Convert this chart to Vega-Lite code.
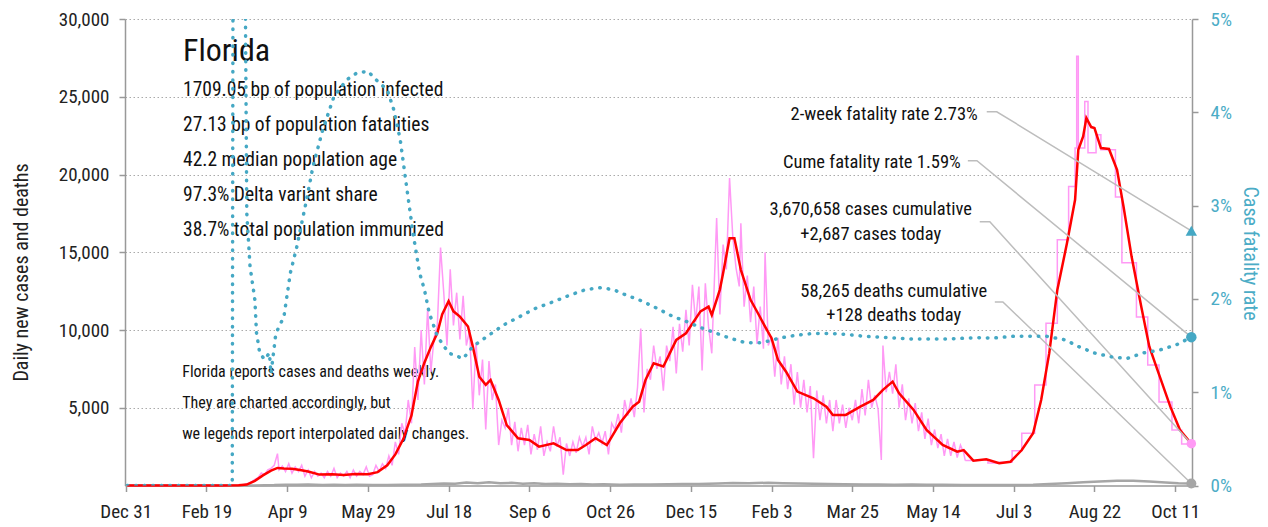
{
  "$schema": "https://vega.github.io/schema/vega-lite/v6.json",
  "autosize": {"type": "none"},
  "padding": {"left": 125, "top": 19, "right": 76, "bottom": 41.5},
  "width": 1067,
  "height": 466.5,
  "config": {
    "view": {"stroke": null},
    "font": "Roboto Condensed, Liberation Sans Narrow, DejaVu Sans Condensed, sans-serif"
  },
  "datasets": {
    "pink": [
      {"d":"2020-01-01","v":0},{"d":"2020-03-01","v":0},{"d":"2020-03-10","v":20},{"d":"2020-03-13","v":50},{"d":"2020-03-16","v":150},{"d":"2020-03-18","v":250},{"d":"2020-03-20","v":400},{"d":"2020-03-22","v":500},{"d":"2020-03-24","v":800},{"d":"2020-03-26","v":700},{"d":"2020-03-28","v":1000},{"d":"2020-03-30","v":1100},
      {"d":"2020-04-01","v":1300},{"d":"2020-04-03","v":2050},{"d":"2020-04-04","v":1000},{"d":"2020-04-06","v":1250},{"d":"2020-04-08","v":900},{"d":"2020-04-10","v":1400},{"d":"2020-04-12","v":800},{"d":"2020-04-14","v":1200},{"d":"2020-04-16","v":900},{"d":"2020-04-18","v":1300},{"d":"2020-04-20","v":600},{"d":"2020-04-22","v":1000},{"d":"2020-04-24","v":500},{"d":"2020-04-26","v":900},{"d":"2020-04-28","v":600},{"d":"2020-04-30","v":800},
      {"d":"2020-05-02","v":500},{"d":"2020-05-04","v":900},{"d":"2020-05-06","v":600},{"d":"2020-05-08","v":1100},{"d":"2020-05-10","v":500},{"d":"2020-05-12","v":800},{"d":"2020-05-14","v":600},{"d":"2020-05-16","v":900},{"d":"2020-05-18","v":500},{"d":"2020-05-20","v":1000},{"d":"2020-05-22","v":600},{"d":"2020-05-24","v":900},{"d":"2020-05-26","v":700},{"d":"2020-05-28","v":1200},{"d":"2020-05-30","v":600},
      {"d":"2020-06-01","v":700},{"d":"2020-06-03","v":1300},{"d":"2020-06-05","v":900},{"d":"2020-06-07","v":1400},{"d":"2020-06-09","v":1100},{"d":"2020-06-11","v":1900},{"d":"2020-06-13","v":1300},{"d":"2020-06-15","v":2800},{"d":"2020-06-17","v":2000},{"d":"2020-06-19","v":4000},{"d":"2020-06-21","v":3300},{"d":"2020-06-23","v":5500},{"d":"2020-06-25","v":4000},{"d":"2020-06-27","v":8900},{"d":"2020-06-29","v":5500},
      {"d":"2020-07-01","v":10000},{"d":"2020-07-03","v":6500},{"d":"2020-07-05","v":11400},{"d":"2020-07-07","v":7300},{"d":"2020-07-09","v":9500},{"d":"2020-07-11","v":10300},{"d":"2020-07-13","v":15300},{"d":"2020-07-15","v":12400},{"d":"2020-07-17","v":9000},{"d":"2020-07-19","v":13900},{"d":"2020-07-21","v":10300},{"d":"2020-07-23","v":12400},{"d":"2020-07-25","v":9400},{"d":"2020-07-27","v":12200},{"d":"2020-07-29","v":9000},{"d":"2020-07-31","v":10000},
      {"d":"2020-08-02","v":4900},{"d":"2020-08-04","v":9200},{"d":"2020-08-06","v":5800},{"d":"2020-08-08","v":8100},{"d":"2020-08-10","v":3600},{"d":"2020-08-12","v":8000},{"d":"2020-08-14","v":5500},{"d":"2020-08-16","v":6500},{"d":"2020-08-18","v":2600},{"d":"2020-08-20","v":4200},{"d":"2020-08-22","v":3700},{"d":"2020-08-24","v":5000},{"d":"2020-08-26","v":2600},{"d":"2020-08-28","v":4100},{"d":"2020-08-30","v":2200},
      {"d":"2020-09-01","v":3700},{"d":"2020-09-03","v":2600},{"d":"2020-09-05","v":3900},{"d":"2020-09-07","v":2000},{"d":"2020-09-09","v":3300},{"d":"2020-09-11","v":2300},{"d":"2020-09-13","v":3800},{"d":"2020-09-15","v":1900},{"d":"2020-09-17","v":2800},{"d":"2020-09-19","v":2200},{"d":"2020-09-21","v":3800},{"d":"2020-09-23","v":2500},{"d":"2020-09-25","v":3100},{"d":"2020-09-27","v":700},{"d":"2020-09-29","v":2700},
      {"d":"2020-10-01","v":1900},{"d":"2020-10-03","v":2800},{"d":"2020-10-05","v":2100},{"d":"2020-10-07","v":3100},{"d":"2020-10-09","v":2500},{"d":"2020-10-11","v":3100},{"d":"2020-10-13","v":2000},{"d":"2020-10-15","v":3800},{"d":"2020-10-17","v":2900},{"d":"2020-10-19","v":3400},{"d":"2020-10-21","v":2700},{"d":"2020-10-23","v":3500},{"d":"2020-10-25","v":2000},{"d":"2020-10-27","v":4000},{"d":"2020-10-29","v":3600},{"d":"2020-10-31","v":4600},
      {"d":"2020-11-02","v":3400},{"d":"2020-11-04","v":5500},{"d":"2020-11-06","v":4500},{"d":"2020-11-08","v":5600},{"d":"2020-11-10","v":4400},{"d":"2020-11-12","v":6300},{"d":"2020-11-14","v":10100},{"d":"2020-11-16","v":4700},{"d":"2020-11-18","v":7500},{"d":"2020-11-20","v":6800},{"d":"2020-11-22","v":9000},{"d":"2020-11-24","v":7500},{"d":"2020-11-26","v":8300},{"d":"2020-11-28","v":6100},{"d":"2020-11-30","v":9000},
      {"d":"2020-12-02","v":8000},{"d":"2020-12-04","v":10200},{"d":"2020-12-06","v":7200},{"d":"2020-12-08","v":10400},{"d":"2020-12-10","v":8600},{"d":"2020-12-12","v":11300},{"d":"2020-12-14","v":9000},{"d":"2020-12-16","v":12900},{"d":"2020-12-18","v":10500},{"d":"2020-12-20","v":12800},{"d":"2020-12-22","v":7400},{"d":"2020-12-24","v":13000},{"d":"2020-12-26","v":10200},{"d":"2020-12-28","v":8500},{"d":"2020-12-31","v":17200},
      {"d":"2021-01-02","v":11000},{"d":"2021-01-04","v":15500},{"d":"2021-01-06","v":13900},{"d":"2021-01-08","v":19770},{"d":"2021-01-10","v":16000},{"d":"2021-01-12","v":14000},{"d":"2021-01-14","v":12800},{"d":"2021-01-15","v":16870},{"d":"2021-01-17","v":11500},{"d":"2021-01-19","v":13500},{"d":"2021-01-21","v":10500},{"d":"2021-01-23","v":12800},{"d":"2021-01-25","v":9100},{"d":"2021-01-27","v":11500},{"d":"2021-01-29","v":8800},{"d":"2021-01-30","v":14980},
      {"d":"2021-02-01","v":9000},{"d":"2021-02-03","v":9600},{"d":"2021-02-05","v":7000},{"d":"2021-02-07","v":9500},{"d":"2021-02-09","v":6500},{"d":"2021-02-11","v":8300},{"d":"2021-02-13","v":6200},{"d":"2021-02-15","v":7800},{"d":"2021-02-17","v":5200},{"d":"2021-02-19","v":7300},{"d":"2021-02-21","v":5000},{"d":"2021-02-23","v":6800},{"d":"2021-02-25","v":4700},{"d":"2021-02-27","v":6400},
      {"d":"2021-03-01","v":1750},{"d":"2021-03-03","v":6100},{"d":"2021-03-05","v":4200},{"d":"2021-03-07","v":5800},{"d":"2021-03-09","v":4000},{"d":"2021-03-11","v":5500},{"d":"2021-03-13","v":3500},{"d":"2021-03-15","v":5500},{"d":"2021-03-17","v":4000},{"d":"2021-03-19","v":5200},{"d":"2021-03-21","v":3700},{"d":"2021-03-23","v":5000},{"d":"2021-03-25","v":4200},{"d":"2021-03-27","v":5500},{"d":"2021-03-29","v":4000},{"d":"2021-03-31","v":6200},
      {"d":"2021-04-02","v":4500},{"d":"2021-04-04","v":6800},{"d":"2021-04-06","v":5000},{"d":"2021-04-08","v":5800},{"d":"2021-04-10","v":4900},{"d":"2021-04-12","v":1640},{"d":"2021-04-13","v":9000},{"d":"2021-04-15","v":6000},{"d":"2021-04-17","v":7300},{"d":"2021-04-19","v":5900},{"d":"2021-04-21","v":7800},{"d":"2021-04-23","v":5000},{"d":"2021-04-25","v":6500},{"d":"2021-04-27","v":4200},{"d":"2021-04-29","v":5600},
      {"d":"2021-05-01","v":4000},{"d":"2021-05-03","v":5300},{"d":"2021-05-05","v":3500},{"d":"2021-05-07","v":4700},{"d":"2021-05-09","v":3000},{"d":"2021-05-11","v":4300},{"d":"2021-05-13","v":2600},{"d":"2021-05-15","v":3600},{"d":"2021-05-17","v":2400},{"d":"2021-05-19","v":3300},{"d":"2021-05-21","v":1900},{"d":"2021-05-23","v":3000},{"d":"2021-05-25","v":1900},{"d":"2021-05-27","v":2800},{"d":"2021-05-29","v":1800},{"d":"2021-05-31","v":2600},{"d":"2021-06-02","v":2100},{"d":"2021-06-03","v":1600}
    ],
    "pinkw": [
      {"d":"2021-06-03","v":1600},{"d":"2021-06-10","v":1650},{"d":"2021-06-17","v":1450},{"d":"2021-06-24","v":1500},{"d":"2021-07-02","v":2240},{"d":"2021-07-08","v":3360},{"d":"2021-07-16","v":6470},{"d":"2021-07-23","v":10440},{"d":"2021-07-30","v":15800},{"d":"2021-08-06","v":19230},{"d":"2021-08-10","v":21700},{"d":"2021-08-11","v":27600},{"d":"2021-08-12","v":21700},{"d":"2021-08-16","v":24700},{"d":"2021-08-18","v":21400},{"d":"2021-08-23","v":22550},{"d":"2021-08-26","v":21590},{"d":"2021-09-04","v":18560},{"d":"2021-09-08","v":14320},{"d":"2021-09-17","v":10840},{"d":"2021-09-24","v":7750},{"d":"2021-10-01","v":5370},{"d":"2021-10-09","v":3570},{"d":"2021-10-15","v":2670},{"d":"2021-10-21","v":2670}
    ],
    "red": [
      {"d":"2020-01-01","v":0},{"d":"2020-02-29","v":0},{"d":"2020-03-10","v":10},{"d":"2020-03-15","v":60},{"d":"2020-03-20","v":300},{"d":"2020-03-25","v":650},{"d":"2020-03-30","v":950},{"d":"2020-04-03","v":1130},{"d":"2020-04-07","v":1100},{"d":"2020-04-12","v":1080},{"d":"2020-04-17","v":1000},{"d":"2020-04-22","v":900},{"d":"2020-04-29","v":700},{"d":"2020-05-07","v":720},{"d":"2020-05-14","v":680},{"d":"2020-05-21","v":740},{"d":"2020-05-29","v":720},{"d":"2020-06-04","v":860},{"d":"2020-06-10","v":1300},{"d":"2020-06-15","v":2000},{"d":"2020-06-20","v":3000},{"d":"2020-06-25","v":4500},{"d":"2020-06-29","v":6700},{"d":"2020-07-03","v":7900},{"d":"2020-07-07","v":8900},{"d":"2020-07-11","v":9800},{"d":"2020-07-14","v":11000},{"d":"2020-07-18","v":11850},{"d":"2020-07-21","v":11200},{"d":"2020-07-25","v":10860},{"d":"2020-07-30","v":10220},{"d":"2020-08-02","v":8930},{"d":"2020-08-06","v":7000},{"d":"2020-08-10","v":6470},{"d":"2020-08-13","v":6790},{"d":"2020-08-18","v":5500},{"d":"2020-08-23","v":3890},{"d":"2020-08-30","v":3040},{"d":"2020-09-06","v":2930},{"d":"2020-09-12","v":2500},{"d":"2020-09-21","v":2710},{"d":"2020-09-29","v":2280},{"d":"2020-10-06","v":2280},{"d":"2020-10-11","v":2600},{"d":"2020-10-17","v":3040},{"d":"2020-10-24","v":2600},{"d":"2020-11-01","v":4000},{"d":"2020-11-09","v":5070},{"d":"2020-11-13","v":5390},{"d":"2020-11-17","v":6800},{"d":"2020-11-22","v":7860},{"d":"2020-11-28","v":7650},{"d":"2020-12-06","v":9360},{"d":"2020-12-12","v":9790},{"d":"2020-12-21","v":11200},{"d":"2020-12-26","v":11500},{"d":"2020-12-28","v":10970},{"d":"2021-01-02","v":12600},{"d":"2021-01-04","v":13650},{"d":"2021-01-08","v":15900},{"d":"2021-01-11","v":15900},{"d":"2021-01-15","v":13870},{"d":"2021-01-21","v":11940},{"d":"2021-01-25","v":11190},{"d":"2021-01-30","v":10220},{"d":"2021-02-03","v":9470},{"d":"2021-02-07","v":8080},{"d":"2021-02-12","v":7320},{"d":"2021-02-19","v":6040},{"d":"2021-03-01","v":5610},{"d":"2021-03-09","v":5070},{"d":"2021-03-13","v":4540},{"d":"2021-03-21","v":4540},{"d":"2021-03-30","v":5070},{"d":"2021-04-07","v":5500},{"d":"2021-04-13","v":6150},{"d":"2021-04-19","v":6680},{"d":"2021-04-23","v":5930},{"d":"2021-05-02","v":4860},{"d":"2021-05-10","v":3570},{"d":"2021-05-20","v":2610},{"d":"2021-05-29","v":2180},{"d":"2021-06-02","v":2280},{"d":"2021-06-08","v":1600},{"d":"2021-06-16","v":1690},{"d":"2021-06-24","v":1430},{"d":"2021-07-01","v":1530},{"d":"2021-07-08","v":2280},{"d":"2021-07-15","v":3360},{"d":"2021-07-20","v":5500},{"d":"2021-07-25","v":8510},{"d":"2021-07-30","v":12580},{"d":"2021-08-05","v":15590},{"d":"2021-08-10","v":18370},{"d":"2021-08-12","v":21590},{"d":"2021-08-15","v":22450},{"d":"2021-08-17","v":23630},{"d":"2021-08-20","v":23050},{"d":"2021-08-22","v":22990},{"d":"2021-08-26","v":21700},{"d":"2021-08-31","v":21640},{"d":"2021-09-05","v":20300},{"d":"2021-09-09","v":17940},{"d":"2021-09-14","v":14720},{"d":"2021-09-20","v":11500},{"d":"2021-09-25","v":8930},{"d":"2021-09-30","v":7430},{"d":"2021-10-08","v":5070},{"d":"2021-10-14","v":3570},{"d":"2021-10-21","v":2687}
    ],
    "deaths": [
      {"d":"2020-01-01","v":0},{"d":"2020-03-10","v":0},{"d":"2020-03-20","v":5},{"d":"2020-04-01","v":25},{"d":"2020-04-08","v":55},{"d":"2020-04-15","v":45},{"d":"2020-04-22","v":60},{"d":"2020-05-01","v":40},{"d":"2020-05-08","v":55},{"d":"2020-05-15","v":35},{"d":"2020-05-22","v":45},{"d":"2020-06-01","v":40},{"d":"2020-06-10","v":35},{"d":"2020-06-20","v":45},{"d":"2020-07-01","v":60},{"d":"2020-07-08","v":90},{"d":"2020-07-15","v":130},{"d":"2020-07-22","v":110},{"d":"2020-07-29","v":190},{"d":"2020-08-05","v":150},{"d":"2020-08-12","v":210},{"d":"2020-08-19","v":140},{"d":"2020-08-26","v":170},{"d":"2020-09-02","v":110},{"d":"2020-09-09","v":140},{"d":"2020-09-16","v":90},{"d":"2020-09-23","v":120},{"d":"2020-10-01","v":80},{"d":"2020-10-08","v":100},{"d":"2020-10-15","v":60},{"d":"2020-10-22","v":80},{"d":"2020-11-01","v":50},{"d":"2020-11-10","v":70},{"d":"2020-11-20","v":60},{"d":"2020-12-01","v":80},{"d":"2020-12-10","v":100},{"d":"2020-12-20","v":90},{"d":"2021-01-01","v":130},{"d":"2021-01-10","v":160},{"d":"2021-01-20","v":140},{"d":"2021-02-01","v":180},{"d":"2021-02-10","v":150},{"d":"2021-02-20","v":130},{"d":"2021-03-01","v":110},{"d":"2021-03-10","v":90},{"d":"2021-03-20","v":80},{"d":"2021-04-01","v":60},{"d":"2021-04-10","v":70},{"d":"2021-04-20","v":55},{"d":"2021-05-01","v":65},{"d":"2021-05-10","v":50},{"d":"2021-05-20","v":45},{"d":"2021-06-01","v":35},{"d":"2021-06-15","v":30},{"d":"2021-07-01","v":30},{"d":"2021-07-15","v":50},{"d":"2021-07-25","v":90},{"d":"2021-08-05","v":150},{"d":"2021-08-15","v":210},{"d":"2021-08-25","v":260},{"d":"2021-09-05","v":300},{"d":"2021-09-15","v":310},{"d":"2021-09-25","v":260},{"d":"2021-10-05","v":200},{"d":"2021-10-13","v":150},{"d":"2021-10-21","v":128}
    ],
    "cfr": [
      {"d":"2020-01-01","p":0},{"d":"2020-03-06","p":0},{"d":"2020-03-07","p":12},{"d":"2020-03-13","p":12},{"d":"2020-03-14","p":5.5},{"d":"2020-03-15","p":2.92},{"d":"2020-03-17","p":2.35},{"d":"2020-03-20","p":1.99},{"d":"2020-03-21","p":1.64},{"d":"2020-03-23","p":1.42},{"d":"2020-03-26","p":1.35},{"d":"2020-03-29","p":1.42},{"d":"2020-03-30","p":1.2},{"d":"2020-04-02","p":1.63},{"d":"2020-04-07","p":1.81},{"d":"2020-04-11","p":2.28},{"d":"2020-04-15","p":2.56},{"d":"2020-04-21","p":3.06},{"d":"2020-04-25","p":3.42},{"d":"2020-05-01","p":3.81},{"d":"2020-05-08","p":4.17},{"d":"2020-05-16","p":4.35},{"d":"2020-05-22","p":4.42},{"d":"2020-05-29","p":4.44},{"d":"2020-06-03","p":4.35},{"d":"2020-06-10","p":4.24},{"d":"2020-06-14","p":4.03},{"d":"2020-06-18","p":3.71},{"d":"2020-06-22","p":3.2},{"d":"2020-06-26","p":2.7},{"d":"2020-06-30","p":2.28},{"d":"2020-07-03","p":2.1},{"d":"2020-07-06","p":1.85},{"d":"2020-07-11","p":1.6},{"d":"2020-07-18","p":1.42},{"d":"2020-07-27","p":1.36},{"d":"2020-08-02","p":1.49},{"d":"2020-08-11","p":1.6},{"d":"2020-08-21","p":1.72},{"d":"2020-08-31","p":1.81},{"d":"2020-09-10","p":1.9},{"d":"2020-09-21","p":1.97},{"d":"2020-10-01","p":2.04},{"d":"2020-10-11","p":2.1},{"d":"2020-10-20","p":2.12},{"d":"2020-10-28","p":2.1},{"d":"2020-11-05","p":2.04},{"d":"2020-11-13","p":1.99},{"d":"2020-11-24","p":1.9},{"d":"2020-12-04","p":1.81},{"d":"2020-12-12","p":1.76},{"d":"2020-12-20","p":1.7},{"d":"2020-12-31","p":1.63},{"d":"2021-01-08","p":1.58},{"d":"2021-01-18","p":1.53},{"d":"2021-01-28","p":1.53},{"d":"2021-02-08","p":1.58},{"d":"2021-02-18","p":1.61},{"d":"2021-03-01","p":1.63},{"d":"2021-03-11","p":1.63},{"d":"2021-03-21","p":1.62},{"d":"2021-04-01","p":1.6},{"d":"2021-04-11","p":1.59},{"d":"2021-05-01","p":1.57},{"d":"2021-05-22","p":1.57},{"d":"2021-06-12","p":1.585},{"d":"2021-06-20","p":1.58},{"d":"2021-07-03","p":1.6},{"d":"2021-07-23","p":1.6},{"d":"2021-08-04","p":1.56},{"d":"2021-08-12","p":1.49},{"d":"2021-08-22","p":1.42},{"d":"2021-09-01","p":1.38},{"d":"2021-09-11","p":1.36},{"d":"2021-09-21","p":1.42},{"d":"2021-10-01","p":1.45},{"d":"2021-10-12","p":1.51},{"d":"2021-10-21","p":1.59}
    ],
    "leaders": [
      {"g":"a","d":"2021-06-16T07:00:00Z","v":24035},{"g":"a","d":"2021-06-22T12:00:00Z","v":24035},{"g":"a","d":"2021-10-21","v":16380},
      {"g":"b","d":"2021-06-04T14:00:00Z","v":20882},{"g":"b","d":"2021-06-10T05:00:00Z","v":20882},{"g":"b","d":"2021-10-21","v":9540},
      {"g":"c","d":"2021-06-11T23:00:00Z","v":16956},{"g":"c","d":"2021-06-18T05:00:00Z","v":16956},{"g":"c","d":"2021-10-21","v":2687},
      {"g":"e","d":"2021-06-21T07:00:00Z","v":11808},{"g":"e","d":"2021-06-26T07:00:00Z","v":11808},{"g":"e","d":"2021-10-21","v":128}
    ]
  },
  "layer": [
    {
      "layer": [
        {
          "data": {"values": [{"d":"2020-02-04T12:00:00Z","v":27272,"t":"Florida"}]},
          "mark": {"type": "text", "align": "left", "baseline": "alphabetic", "fontSize": 32, "color": "#111"},
          "encoding": {
            "x": {"field": "d", "type": "temporal", "title": null,
              "scale": {"type": "utc", "domain": [{"year":2019,"month":12,"date":30,"hours":13,"minutes":40,"utc":true},{"year":2021,"month":10,"date":21,"hours":10,"utc":true}]},
              "axis": {"values": [{"year":2019,"month":12,"date":31,"utc":true},{"year":2020,"month":2,"date":19,"utc":true},{"year":2020,"month":4,"date":9,"utc":true},{"year":2020,"month":5,"date":29,"utc":true},{"year":2020,"month":7,"date":18,"utc":true},{"year":2020,"month":9,"date":6,"utc":true},{"year":2020,"month":10,"date":26,"utc":true},{"year":2020,"month":12,"date":15,"utc":true},{"year":2021,"month":2,"date":3,"utc":true},{"year":2021,"month":3,"date":25,"utc":true},{"year":2021,"month":5,"date":14,"utc":true},{"year":2021,"month":7,"date":3,"utc":true},{"year":2021,"month":8,"date":22,"utc":true},{"year":2021,"month":10,"date":11,"utc":true}],
                "format": "%b %-d", "labelFontSize": 19, "labelColor": "#222", "tickSize": 6, "tickColor": "#999", "tickWidth": 1.5, "domainColor": "#999", "domainWidth": 1.5, "labelPadding": 11, "grid": false, "labelFlush": false, "labelOverlap": false}},
            "y": {"field": "v", "type": "quantitative", "title": "Daily new cases and deaths",
              "scale": {"domain": [0, 30000], "nice": false},
              "axis": {"values": [5000,10000,15000,20000,25000,30000], "labelExpr": "format(datum.value, ',')", "grid": true, "gridDash": [1.5,2.5], "gridColor": "#aaa", "gridWidth": 1, "domainColor": "#999", "domainWidth": 1.5, "tickColor": "#999", "tickWidth": 1.5, "tickSize": 6, "labelFontSize": 19, "labelColor": "#222", "labelPadding": 10, "labelFlush": false, "titleFontSize": 20, "titleFontWeight": "normal", "titleColor": "#222", "titleX": -98, "titleY": 253, "titleBaseline": "alphabetic"}},
            "text": {"field": "t"}
          }
        },
        {
          "data": {"values": [
            {"d":"2020-02-04T12:00:00Z","v":25033,"t":"1709.05 bp of population infected"},
            {"d":"2020-02-04T12:00:00Z","v":22780,"t":"27.13 bp of population fatalities"},
            {"d":"2020-02-04T12:00:00Z","v":20528,"t":"42.2 median population age"},
            {"d":"2020-02-04T12:00:00Z","v":18275,"t":"97.3% Delta variant share"},
            {"d":"2020-02-04T12:00:00Z","v":16023,"t":"38.7% total population immunized"}
          ]},
          "mark": {"type": "text", "align": "left", "baseline": "alphabetic", "fontSize": 19.5, "color": "#111"},
          "encoding": {
            "x": {"field": "d", "type": "temporal", "title": null},
            "y": {"field": "v", "type": "quantitative", "title": "Daily new cases and deaths"},
            "text": {"field": "t"}
          }
        },
        {
          "data": {"values": [
            {"d":"2020-02-04T00:00:00Z","v":7001,"t":"Florida reports cases and deaths weekly."},
            {"d":"2020-02-04T00:00:00Z","v":4968,"t":"They are charted accordingly, but"},
            {"d":"2020-02-04T00:00:00Z","v":2973,"t":"we legends report interpolated daily changes."}
          ]},
          "mark": {"type": "text", "align": "left", "baseline": "alphabetic", "fontSize": 16, "color": "#111"},
          "encoding": {
            "x": {"field": "d", "type": "temporal", "title": null},
            "y": {"field": "v", "type": "quantitative", "title": "Daily new cases and deaths"},
            "text": {"field": "t"}
          }
        },
        {
          "data": {"values": [
            {"d":"2021-06-10T17:00:00Z","v":23520,"t":"2-week fatality rate 2.73%"},
            {"d":"2021-05-31T05:00:00Z","v":20431,"t":"Cume fatality rate 1.59%"}
          ]},
          "mark": {"type": "text", "align": "right", "baseline": "alphabetic", "fontSize": 18.5, "color": "#111"},
          "encoding": {
            "x": {"field": "d", "type": "temporal", "title": null},
            "y": {"field": "v", "type": "quantitative", "title": "Daily new cases and deaths"},
            "text": {"field": "t"}
          }
        },
        {
          "data": {"values": [
            {"d":"2021-04-05T10:00:00Z","v":17407,"t":"3,670,658 cases cumulative"},
            {"d":"2021-04-05T10:00:00Z","v":15798,"t":"+2,687 cases today"},
            {"d":"2021-04-19T17:00:00Z","v":12149,"t":"58,265 deaths cumulative"},
            {"d":"2021-04-19T17:00:00Z","v":10605,"t":"+128 deaths today"}
          ]},
          "mark": {"type": "text", "align": "center", "baseline": "alphabetic", "fontSize": 18.5, "color": "#111"},
          "encoding": {
            "x": {"field": "d", "type": "temporal", "title": null},
            "y": {"field": "v", "type": "quantitative", "title": "Daily new cases and deaths"},
            "text": {"field": "t"}
          }
        },
        {
          "data": {"name": "deaths"},
          "mark": {"type": "line", "color": "#a6a6a6", "strokeWidth": 2.5},
          "encoding": {
            "x": {"field": "d", "type": "temporal", "title": null},
            "y": {"field": "v", "type": "quantitative", "title": "Daily new cases and deaths"}
          }
        },
        {
          "data": {"name": "pink"},
          "mark": {"type": "line", "color": "#ff99f5", "strokeWidth": 1.5},
          "encoding": {
            "x": {"field": "d", "type": "temporal", "title": null},
            "y": {"field": "v", "type": "quantitative", "title": "Daily new cases and deaths"}
          }
        },
        {
          "data": {"name": "pinkw"},
          "mark": {"type": "line", "color": "#ff99f5", "strokeWidth": 1.5, "interpolate": "step-after"},
          "encoding": {
            "x": {"field": "d", "type": "temporal", "title": null},
            "y": {"field": "v", "type": "quantitative", "title": "Daily new cases and deaths"}
          }
        },
        {
          "data": {"name": "red"},
          "mark": {"type": "line", "color": "#ff0000", "strokeWidth": 2.5},
          "encoding": {
            "x": {"field": "d", "type": "temporal", "title": null},
            "y": {"field": "v", "type": "quantitative", "title": "Daily new cases and deaths"}
          }
        },
        {
          "data": {"name": "leaders"},
          "mark": {"type": "line", "color": "#bdbdbd", "strokeWidth": 1.5},
          "encoding": {
            "x": {"field": "d", "type": "temporal", "title": null},
            "y": {"field": "v", "type": "quantitative", "title": "Daily new cases and deaths"},
            "detail": {"field": "g"}
          }
        },
        {
          "data": {"values": [{"d":"2021-10-21","v":2687}]},
          "mark": {"type": "point", "filled": true, "shape": "circle", "size": 90, "color": "#ff99f5", "opacity": 1},
          "encoding": {
            "x": {"field": "d", "type": "temporal", "title": null},
            "y": {"field": "v", "type": "quantitative", "title": "Daily new cases and deaths"}
          }
        },
        {
          "data": {"values": [{"d":"2021-10-21","v":128}]},
          "mark": {"type": "point", "filled": true, "shape": "circle", "size": 100, "color": "#a6a6a6", "opacity": 1},
          "encoding": {
            "x": {"field": "d", "type": "temporal", "title": null},
            "y": {"field": "v", "type": "quantitative", "title": "Daily new cases and deaths"}
          }
        }
      ]
    },
    {
      "layer": [
        {
          "data": {"name": "cfr"},
          "mark": {"type": "line", "color": "#45a8c4", "strokeWidth": 3.5, "strokeDash": [0.5, 8], "strokeCap": "round", "clip": true},
          "encoding": {
            "x": {"field": "d", "type": "temporal", "title": null},
            "y": {"field": "p", "type": "quantitative", "title": "Case fatality rate",
              "scale": {"domain": [0, 5], "nice": false},
              "axis": {"orient": "right", "values": [0,1,2,3,4,5], "labelExpr": "datum.value + '%'", "grid": false, "domainColor": "#999", "domainWidth": 1.5, "tickColor": "#999", "tickWidth": 1.5, "tickSize": 6, "labelFontSize": 19, "labelColor": "#4bacc6", "labelPadding": 12, "labelFlush": false, "titleColor": "#4bacc6", "titleFontSize": 20, "titleFontWeight": "normal", "titleX": 51, "titleY": 234, "titleBaseline": "alphabetic"}}
          }
        },
        {
          "data": {"values": [{"d":"2021-10-21","p":1.59}]},
          "mark": {"type": "point", "filled": true, "shape": "circle", "size": 110, "color": "#45a8c4", "opacity": 1},
          "encoding": {
            "x": {"field": "d", "type": "temporal", "title": null},
            "y": {"field": "p", "type": "quantitative", "title": "Case fatality rate"}
          }
        },
        {
          "data": {"values": [{"d":"2021-10-21","p":2.73}]},
          "mark": {"type": "point", "filled": true, "shape": "triangle-up", "size": 130, "color": "#45a8c4", "opacity": 1},
          "encoding": {
            "x": {"field": "d", "type": "temporal", "title": null},
            "y": {"field": "p", "type": "quantitative", "title": "Case fatality rate"}
          }
        }
      ]
    }
  ],
  "resolve": {"scale": {"y": "independent"}}
}
